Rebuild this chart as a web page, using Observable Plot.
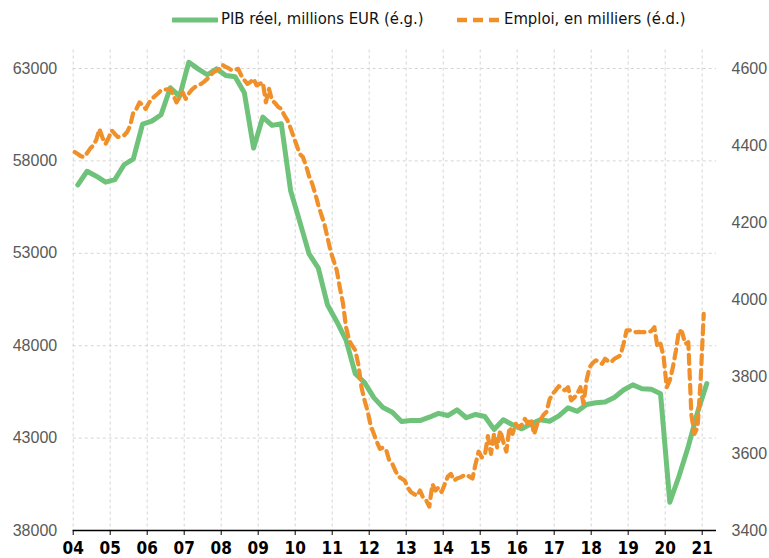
<!DOCTYPE html>
<html>
<head>
<meta charset="utf-8">
<script src="https://cdn.jsdelivr.net/npm/d3@7"></script>
<script src="https://cdn.jsdelivr.net/npm/@observablehq/plot@0.6"></script>
<style>
  html, body { margin: 0; padding: 0; background: #fff; }
  #wrap { width: 769px; height: 558px; position: relative; }
  #legend { position: relative; width: 769px; height: 40px; font-family: "Liberation Sans Narrow", "DejaVu Sans Condensed", sans-serif; font-size: 16.5px; color: #111; }
  #legend .sw { position: absolute; top: 12px; }
  #legend .lab { position: absolute; top: 9px; white-space: nowrap; }
  svg { display: block; }
</style>
</head>
<body>
<div id="wrap">
  <div id="legend"></div>
  <div id="chart"></div>
</div>
<script>
// ---- data ----
const seriesNames = ["PIB réel, millions EUR (é.g.)", "Emploi, en milliers (é.d.)"];
const startYear = 2004;
const yearTicks = d3.range(2004, 2022);
const leftTicks = [38000, 43000, 48000, 53000, 58000, 63000];
const rightTicks = [3400, 3600, 3800, 4000, 4200, 4400, 4600];

// quarterly real GDP, 2004Q1 .. 2021Q1
const gdp = [
  56700, 57440, 57170, 56850,
  56990, 57790, 58110, 59990,
  60150, 60500, 61960, 61490,
  63340, 62980, 62660, 62980,
  62620, 62550, 61690, 58690,
  60370, 59920, 60010, 56400,
  54700, 52970, 52200, 50200,
  49300, 48300, 46480, 46000,
  45190, 44650, 44400, 43900,
  43950, 43950, 44130, 44340,
  44220, 44530, 44100, 44280,
  44170, 43470, 43990, 43720,
  43500, 43770, 43990, 43910,
  44200, 44640, 44450, 44820,
  44910, 44950, 45200, 45600,
  45880, 45670, 45640, 45400,
  39530, 40950, 42550, 44400,
  45950
];

// monthly employment (thousands), Jan 2004 .. Jan 2021
const emploi = [
  4383, 4378, 4372, 4370, 4380, 4392, 4400, 4415, 4443, 4420, 4404, 4420,
  4439, 4430, 4422, 4424, 4426, 4435, 4452, 4486, 4495, 4512, 4505, 4495,
  4510, 4521, 4528, 4535, 4543, 4545, 4546, 4547, 4530, 4512, 4525, 4538,
  4521, 4535, 4545, 4552, 4556, 4560, 4566, 4573, 4582, 4590, 4595, 4599,
  4609, 4604, 4600, 4595, 4597, 4599, 4582, 4570, 4560, 4565, 4573, 4556,
  4560, 4564, 4512, 4547, 4517, 4510, 4500, 4495, 4478, 4465, 4445, 4422,
  4400, 4378, 4370, 4348, 4320, 4301, 4275, 4245, 4220, 4195, 4160, 4125,
  4100, 4075, 4030, 3990, 3928, 3894, 3880, 3868, 3830, 3772, 3738, 3710,
  3672, 3651, 3630, 3612, 3615, 3610, 3582, 3573, 3555, 3540, 3535, 3530,
  3512, 3500, 3495, 3490, 3504, 3485, 3478, 3462, 3520, 3504, 3512, 3500,
  3520, 3540, 3547, 3530, 3535, 3538, 3542, 3545, 3540, 3535, 3573, 3605,
  3590, 3595, 3645, 3599, 3651, 3616, 3660, 3630, 3605, 3668, 3651, 3677,
  3668, 3675, 3690, 3677, 3690, 3650, 3677, 3686, 3700, 3708, 3740, 3755,
  3764, 3775, 3768, 3764, 3772, 3738, 3745, 3755, 3772, 3729, 3790, 3824,
  3835, 3842, 3838, 3833, 3846, 3840, 3837, 3846, 3850, 3855, 3885, 3920,
  3920, 3918, 3915, 3916, 3915, 3915, 3915, 3918, 3928, 3876, 3885, 3850,
  3772, 3790, 3824, 3868, 3920, 3915, 3885, 3889, 3700, 3651, 3668, 3790,
  3963
];

// ---- styling ----
const green = "#6fc27a";
const orange = "#f0902a";

// dual axis mapping (right axis 3400..4600 aligned with left 38000..63000)
const toLeft = e => 38000 + (e - 3400) * 25000 / 1200;
const fromLeft = v => 3400 + (v - 38000) * 1200 / 25000;

const gdpData = gdp.map((v, i) => ({t: startYear + (i + 0.5) / 4, v}));
const empData = emploi.map((e, i) => ({t: startYear + (i + 0.5) / 12, v: toLeft(e)}));

const numFont = {fontFamily: "Liberation Sans, Arial, sans-serif", fontSize: 16};

const chart = Plot.plot({
  width: 769,
  height: 518,
  marginLeft: 72.7,
  marginRight: 53,
  marginTop: 9.5,
  marginBottom: 28,
  style: {background: "#fff", overflow: "visible"},
  x: {domain: [2004, 2021.387]},
  y: {domain: [38000, 64000]},
  marks: [
    Plot.gridY(leftTicks.filter(d => d > 38000), {stroke: "#d4d4d4", strokeOpacity: 1, strokeDasharray: "3,3"}),
    Plot.gridX(yearTicks, {stroke: "#d4d4d4", strokeOpacity: 1, strokeDasharray: "3,3"}),
    Plot.ruleY([38000], {stroke: "#000", strokeWidth: 1.3}),
    Plot.axisX(yearTicks, {
      tickSize: 5, tickPadding: 6, stroke: "#000", fill: "#000",
      tickFormat: d => String(d % 100).padStart(2, "0"),
      fontFamily: "Liberation Sans Narrow, DejaVu Sans Condensed, sans-serif",
      fontSize: 17, fontWeight: "bold", label: null
    }),
    Plot.axisY(leftTicks, {anchor: "left", tickSize: 0, tickPadding: 16, fill: "#595959", tickFormat: d => String(d), label: null, ...numFont}),
    Plot.axisY(rightTicks.map(toLeft), {anchor: "right", tickSize: 0, tickPadding: 15, fill: "#595959", tickFormat: d => String(Math.round(fromLeft(d))), label: null, ...numFont}),
    Plot.line(gdpData, {x: "t", y: "v", stroke: green, strokeWidth: 5, strokeLinejoin: "round"}),
    Plot.line(empData, {x: "t", y: "v", stroke: orange, strokeWidth: 4.2, strokeDasharray: "9,6", strokeLinejoin: "round"})
  ]
});
document.getElementById("chart").appendChild(chart);

// ---- legend ----
const legend = document.getElementById("legend");
const items = [
  {name: seriesNames[0], color: green, dash: null, sx: 172, tx: 221, w: 46, sw: 5},
  {name: seriesNames[1], color: orange, dash: "10,6", sx: 456, tx: 504, w: 44, sw: 4.5}
];
for (const it of items) {
  const s = d3.create("svg").attr("class", "sw").attr("width", it.w).attr("height", 16)
    .style("left", it.sx + "px");
  s.append("line").attr("x1", 1).attr("x2", it.w - 1).attr("y1", 8).attr("y2", 8)
    .attr("stroke", it.color).attr("stroke-width", it.sw)
    .attr("stroke-linecap", it.dash ? "butt" : "round")
    .attr("stroke-dasharray", it.dash);
  legend.appendChild(s.node());
  const t = document.createElement("span");
  t.className = "lab";
  t.style.left = it.tx + "px";
  t.textContent = it.name;
  legend.appendChild(t);
}
</script>
</body>
</html>
